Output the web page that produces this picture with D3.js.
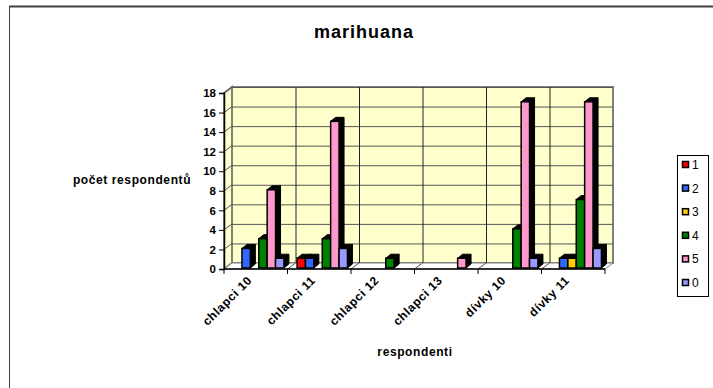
<!DOCTYPE html>
<html>
<head>
<meta charset="utf-8">
<script src="https://cdn.jsdelivr.net/npm/d3@7"></script>
<style>
  body { margin: 0; background: #fff; }
  svg { display: block; font-family: Arial, "Liberation Sans", sans-serif; }
</style>
</head>
<body>
<svg id="chart" width="713" height="388"></svg>
<script>
// Data
const categories = ["chlapci 10", "chlapci 11", "chlapci 12", "chlapci 13", "dívky 10", "dívky 11"];
const seriesNames = ["1", "2", "3", "4", "5", "0"];
const seriesColors = ["#FF0000", "#3366FF", "#FFCC00", "#008000", "#FF99CC", "#9999FF"];
const s1 = [0, 1, 0, 0, 0, 0];
const s2 = [2, 1, 0, 0, 0, 1];
const s3 = [0, 0, 0, 0, 0, 1];
const s4 = [3, 3, 1, 0, 4, 7];
const s5 = [8, 15, 0, 1, 17, 17];
const s0 = [1, 2, 0, 0, 1, 2];
const seriesValues = [s1, s2, s3, s4, s5, s0];
const yTicks = [0, 2, 4, 6, 8, 10, 12, 14, 16, 18];

const svg = d3.select("#chart");

// Geometry of the 3D box
const plotLeft = 224, plotRight = 605, plotBottom = 269, plotTop = 93;
const depthX = 8, depthY = -6;      // wall depth
const barDX = 5, barDY = -4;        // bar depth

const x = d3.scaleBand().domain(categories).range([plotLeft, plotRight]);
const xs = d3.scaleBand().domain(seriesNames).range([0, x.bandwidth()]).paddingOuter(0.78).paddingInner(0);
const y = d3.scaleLinear().domain([0, 18]).range([plotBottom, plotTop]);

// outer chart border (right and bottom edges fall outside the picture)
svg.append("rect")
  .attr("x", 9.5).attr("y", 6.5).attr("width", 760).attr("height", 420)
  .attr("fill", "none").attr("stroke", "#404040").attr("stroke-width", 1);
svg.append("line").attr("x1", 9).attr("x2", 713).attr("y1", 6.5).attr("y2", 6.5)
  .attr("stroke", "#404040").attr("stroke-width", 2);

// back wall
svg.append("rect")
  .attr("x", plotLeft + depthX).attr("y", plotTop + depthY)
  .attr("width", plotRight - plotLeft).attr("height", plotBottom - plotTop)
  .attr("fill", "#FFFFCC").attr("stroke", "#808080").attr("stroke-width", 2);

// side wall
svg.append("polygon")
  .attr("points", [[plotLeft, plotTop], [plotLeft + depthX, plotTop + depthY], [plotLeft + depthX, plotBottom + depthY], [plotLeft, plotBottom]].join(" "))
  .attr("fill", "#FFFFCC").attr("stroke", "#808080").attr("stroke-width", 2);

// floor
svg.append("polygon")
  .attr("points", [[plotLeft, plotBottom], [plotLeft + depthX, plotBottom + depthY], [plotRight + depthX, plotBottom + depthY], [plotRight, plotBottom]].join(" "))
  .attr("fill", "#ffffff").attr("stroke", "#808080").attr("stroke-width", 1);

// horizontal gridlines on back and side wall
const grid = svg.append("g");
yTicks.slice(1).forEach(t => {
  grid.append("line")
    .attr("x1", plotLeft + depthX).attr("x2", plotRight + depthX)
    .attr("y1", y(t) + depthY + 0.5).attr("y2", y(t) + depthY + 0.5)
    .attr("stroke", "#555").attr("stroke-width", 1);
  grid.append("line")
    .attr("x1", plotLeft).attr("x2", plotLeft + depthX)
    .attr("y1", y(t)).attr("y2", y(t) + depthY)
    .attr("stroke", "#555").attr("stroke-width", 1);
});
// vertical gridlines on back wall
categories.slice(1).forEach(c => {
  grid.append("line")
    .attr("x1", x(c) + depthX + 0.5).attr("x2", x(c) + depthX + 0.5)
    .attr("y1", plotTop + depthY).attr("y2", plotBottom + depthY)
    .attr("stroke", "#222").attr("stroke-width", 1);
  grid.append("line")
    .attr("x1", x(c)).attr("x2", x(c) + depthX)
    .attr("y1", plotBottom).attr("y2", plotBottom + depthY)
    .attr("stroke", "#555").attr("stroke-width", 1);
});

// bars
const bars = svg.append("g").attr("transform", `translate(${depthX / 2 - 1},${depthY / 2 + 2})`);
categories.forEach((c, ci) => {
  seriesNames.forEach((s, si) => {
    const v = seriesValues[si][ci];
    if (!v) return;
    const bx = x(c) + xs(s);
    const bw = xs.bandwidth();
    const yt = y(v), yb = y(0);
    const g = bars.append("g");
    // top face
    g.append("polygon")
      .attr("points", [[bx, yt], [bx + barDX, yt + barDY], [bx + bw + barDX, yt + barDY], [bx + bw, yt]].join(" "))
      .attr("fill", "#000").attr("stroke", "#000").attr("stroke-width", 1);
    // side face
    g.append("polygon")
      .attr("points", [[bx + bw, yt], [bx + bw + barDX, yt + barDY], [bx + bw + barDX, yb + barDY], [bx + bw, yb]].join(" "))
      .attr("fill", "#000").attr("stroke", "#000").attr("stroke-width", 1);
    // front face
    g.append("rect")
      .attr("x", bx).attr("y", yt).attr("width", bw).attr("height", yb - yt)
      .attr("fill", seriesColors[si]).attr("stroke", "#000").attr("stroke-width", 1.5);
  });
});

// y axis
const yAxis = svg.append("g").attr("transform", `translate(${plotLeft},0)`)
  .call(d3.axisLeft(y).tickValues(yTicks).tickSize(5).tickPadding(3).tickFormat(d3.format("d")));
yAxis.select(".domain").attr("stroke", "#000").attr("stroke-width", 1.5);
yAxis.selectAll("text").attr("font-size", 11.5).attr("font-weight", "bold").attr("fill", "#000")
  .attr("font-family", "Arial, 'Liberation Sans', sans-serif");

// x axis
const xAxis = svg.append("g").attr("transform", `translate(0,${plotBottom})`);
xAxis.append("line").attr("x1", plotLeft).attr("x2", plotRight).attr("y1", 0).attr("y2", 0)
  .attr("stroke", "#000").attr("stroke-width", 1.5);
categories.concat(["end"]).forEach((c, i) => {
  const tx = plotLeft + i * x.bandwidth();
  xAxis.append("line").attr("x1", tx).attr("x2", tx).attr("y1", 0).attr("y2", 5)
    .attr("stroke", "#000").attr("stroke-width", 1);
});
categories.forEach(c => {
  xAxis.append("text")
    .attr("transform", `translate(${x(c) + x.bandwidth() / 2 - 3},12) rotate(-45)`)
    .attr("text-anchor", "end")
    .attr("font-size", 12).attr("font-weight", "bold").attr("letter-spacing", 0.6)
    .text(c);
});

// titles
svg.append("text").attr("x", 364).attr("y", 38).attr("text-anchor", "middle")
  .attr("font-size", 18).attr("font-weight", "bold").attr("letter-spacing", 1).text("marihuana");
svg.append("text").attr("x", 132).attr("y", 184).attr("text-anchor", "middle")
  .attr("font-size", 12).attr("font-weight", "bold").attr("letter-spacing", 0.6).text("počet respondentů");
svg.append("text").attr("x", 415).attr("y", 356).attr("text-anchor", "middle")
  .attr("font-size", 12).attr("font-weight", "bold").attr("letter-spacing", 0.6).text("respondenti");

// legend
const legend = svg.append("g");
legend.append("rect").attr("x", 677.5).attr("y", 155.5).attr("width", 31).attr("height", 141)
  .attr("fill", "#fff").attr("stroke", "#000").attr("stroke-width", 1);
seriesNames.forEach((s, i) => {
  const ly = 165 + i * 23.6;
  legend.append("rect").attr("x", 682.5).attr("y", ly - 3.5).attr("width", 6).attr("height", 6)
    .attr("fill", seriesColors[i]).attr("stroke", "#000").attr("stroke-width", 1.5);
  legend.append("text").attr("x", 692).attr("y", ly + 4).attr("font-size", 12).text(s);
});
</script>
</body>
</html>
